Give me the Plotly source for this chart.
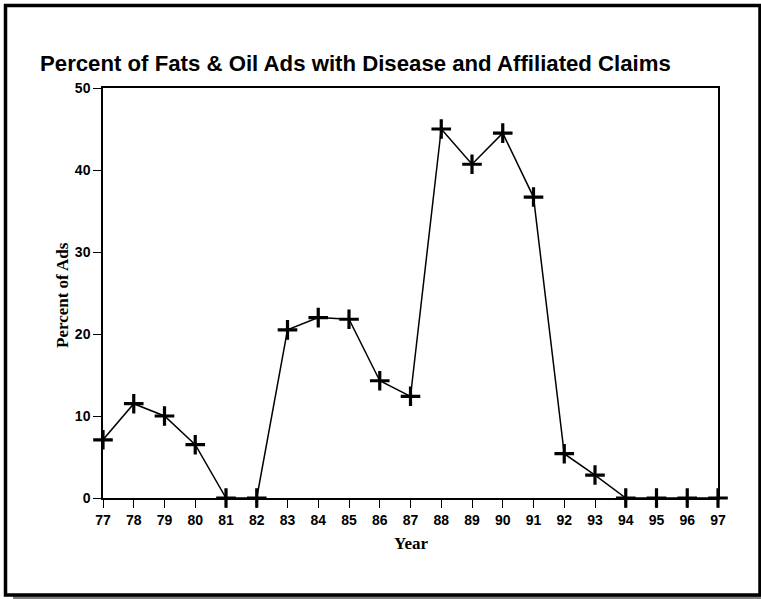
import plotly.graph_objects as go

years = ["77","78","79","80","81","82","83","84","85","86","87","88","89","90","91","92","93","94","95","96","97"]
percent = [7.1, 11.5, 10.0, 6.5, 0, 0, 20.5, 22.0, 21.8, 14.3, 12.4, 45.0, 40.7, 44.5, 36.7, 5.4, 2.8, 0, 0, 0, 0]
y_ticks = [0, 10, 20, 30, 40, 50]

L, R, T, B = 103, 718, 88, 498
W, H = 761, 599

def px(x):
    return (x - L) / (R - L)

def py(y):
    return (B - y) / (B - T)

fig = go.Figure()
fig.add_trace(go.Scatter(
    x=years, y=percent, mode="lines+markers",
    line=dict(color="black", width=1.5),
    marker=dict(symbol="cross-thin", size=14, line=dict(color="black", width=3.2)),
    cliponaxis=False, showlegend=False,
))

tickfont = dict(family="Arial, Liberation Sans", size=14, color="black", weight="bold")
fig.update_layout(
    width=W, height=H,
    margin=dict(l=L, r=W - R, t=T, b=H - B),
    paper_bgcolor="white", plot_bgcolor="white",
    xaxis=dict(type="category", range=[0, 20], showline=True, mirror=True,
               linecolor="black", linewidth=1.5, ticks="outside", ticklen=8,
               tickcolor="black", tickwidth=1, showgrid=False, zeroline=False,
               tickfont=tickfont),
    yaxis=dict(range=[0, 50], tickvals=y_ticks, showline=True, mirror=True,
               linecolor="black", linewidth=1.5, ticks="outside", ticklen=8,
               tickcolor="black", tickwidth=1, showgrid=False, zeroline=False,
               tickfont=tickfont),
)

fig.add_annotation(text="<b>Percent of Fats &amp; Oil Ads with Disease and Affiliated Claims</b>",
                   xref="paper", yref="paper", x=px(38), y=py(64), xanchor="left", yanchor="middle",
                   showarrow=False, font=dict(family="Arial, Liberation Sans", size=22.2, color="black"))
fig.add_annotation(text="<b>Percent of Ads</b>", textangle=-90,
                   xref="paper", yref="paper", x=px(62), y=py(295), xanchor="center", yanchor="middle",
                   showarrow=False, font=dict(family="Times New Roman, Liberation Serif", size=17, color="black"))
fig.add_annotation(text="<b>Year</b>",
                   xref="paper", yref="paper", x=px(411), y=py(543), xanchor="center", yanchor="middle",
                   showarrow=False, font=dict(family="Times New Roman, Liberation Serif", size=17, color="black"))

# shadow
fig.add_shape(type="rect", xref="paper", yref="paper", layer="below",
              x0=px(13), x1=px(762), y0=py(600), y1=py(596),
              fillcolor="#808080", line=dict(width=0))
# outer frame
fig.add_shape(type="rect", xref="paper", yref="paper",
              x0=px(5.5), x1=px(760), y0=py(595), y1=py(5.5),
              line=dict(color="black", width=3.5))

fig.write_html("out.html", config={"displayModeBar": False},
               post_script="document.body.style.margin='0px';document.body.style.overflow='hidden';")
